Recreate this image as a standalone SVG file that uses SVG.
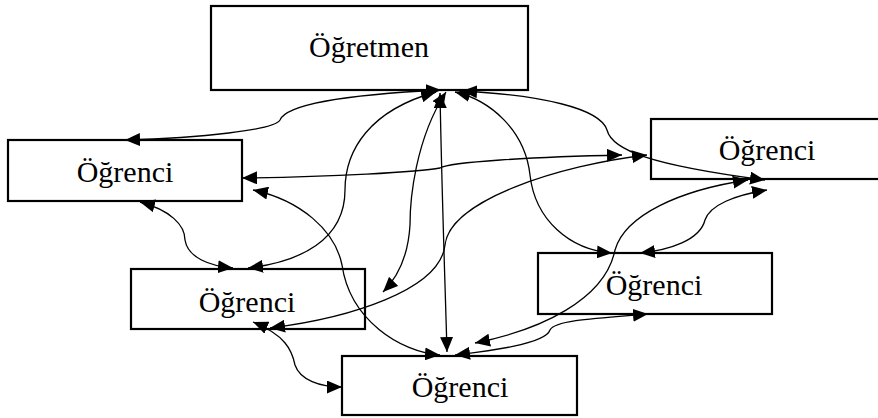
<svg xmlns="http://www.w3.org/2000/svg" width="878" height="418" viewBox="0 0 878 418">
<style>
.box{fill:#fff;stroke:#000;stroke-width:2.2}
.lbl{font-family:"Liberation Serif","Times New Roman","DejaVu Serif",serif;font-size:30px;fill:#000;text-anchor:middle}
.edge{fill:none;stroke:#000;stroke-width:1.3;marker-start:url(#ah);marker-end:url(#ah)}
</style>
<defs>
<marker id="ah" viewBox="0 0 15 13" refX="15" refY="6.5" markerWidth="15" markerHeight="13" markerUnits="userSpaceOnUse" orient="auto-start-reverse">
<path d="M0,0 L15,6.5 L0,13 z" fill="#000"/>
</marker>
</defs>
<rect width="878" height="418" fill="#fff"/>
<g id="nodes">
<g id="ogretmen"><rect class="box" x="211" y="6" width="317" height="84"/><text class="lbl" x="369" y="57">Öğretmen</text></g>
<g id="ogrenci-a"><rect class="box" x="8" y="140" width="234" height="61"/><text class="lbl" x="125" y="182">Öğrenci</text></g>
<g id="ogrenci-b"><rect class="box" x="651" y="119" width="234" height="60"/><text class="lbl" x="767" y="160">Öğrenci</text></g>
<g id="ogrenci-c"><rect class="box" x="131" y="269" width="234" height="60"/><text class="lbl" x="247" y="312">Öğrenci</text></g>
<g id="ogrenci-d"><rect class="box" x="342" y="356" width="235" height="59"/><text class="lbl" x="460" y="397">Öğrenci</text></g>
<g id="ogrenci-e"><rect class="box" x="538" y="253" width="234" height="61"/><text class="lbl" x="654" y="295">Öğrenci</text></g>
</g>
<g id="connectors">
<path class="edge" d="M125,140 C200,138 275,130 280,120 C285,108 320,96 441,90"/>
<path class="edge" d="M462,91 C540,95 600,108 607,130 C612,150 650,165 765,180"/>
<path class="edge" d="M455,92 C490,100 525,130 530,175 C535,220 570,250 612,253"/>
<path class="edge" d="M440,93 C442,200 445,280 447,352"/>
<path class="edge" d="M436,92 C370,110 345,150 345,190 C345,240 300,262 248,268"/>
<path class="edge" d="M446,92 C415,140 410,200 410,225 C408,260 395,280 383,292"/>
<path class="edge" d="M242,178 C330,177 420,172 440,168 C450,162 530,157 622,155"/>
<path class="edge" d="M253,190 C300,200 335,230 342,265 C350,320 400,352 440,355"/>
<path class="edge" d="M140,202 C170,210 185,225 185,240 C188,258 210,266 233,268"/>
<path class="edge" d="M270,328 C350,318 440,290 445,245 C450,200 560,165 647,155"/>
<path class="edge" d="M253,322 C285,335 292,350 295,365 C300,380 320,387 342,387"/>
<path class="edge" d="M648,314 C600,318 555,320 550,330 C545,345 480,352 455,355"/>
<path class="edge" d="M748,180 C680,190 625,215 615,250 C605,300 540,330 475,343"/>
<path class="edge" d="M767,190 C735,195 710,205 705,220 C700,240 670,250 640,253"/>
</g>
</svg>
